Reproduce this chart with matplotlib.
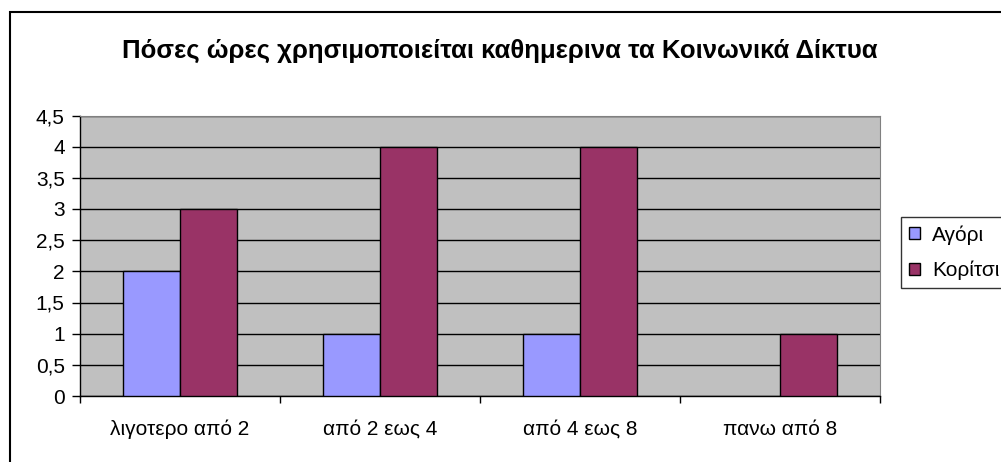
import numpy as np
import matplotlib.pyplot as plt
from matplotlib.patches import Rectangle

categories = ['λιγοτερο από 2', 'από 2 εως 4', 'από 4 εως 8', 'πανω από 8']
agori = [2, 1, 1, 0]
koritsi = [3, 4, 4, 1]
yticks_vals = [0, 0.5, 1, 1.5, 2, 2.5, 3, 3.5, 4, 4.5]
ytick_labels = ['0', '0,5', '1', '1,5', '2', '2,5', '3', '3,5', '4', '4,5']
title = 'Πόσες ώρες χρησιμοποιείται καθημερινα τα Κοινωνικά Δίκτυα'

plt.rcParams['font.family'] = ['Liberation Sans', 'DejaVu Sans']

W, H = 1001, 462
fig = plt.figure(figsize=(W / 100, H / 100), dpi=100)

# outer chart border (runs off the right/bottom edge)
fig.patches.append(Rectangle((10 / W, -0.1), 1.2, 1 - 12 / H + 0.1, transform=fig.transFigure,
                             fill=False, edgecolor='black', linewidth=1.5))

ax = fig.add_axes([80 / W, (H - 396) / H, 800 / W, (396 - 115.5) / H])
ax.set_facecolor('#C0C0C0')

x = np.arange(len(categories))
w = 1 / 3.5
# zero values are not drawn (no flat outline)
a = np.where(np.array(agori) == 0, np.nan, agori)
k = np.where(np.array(koritsi) == 0, np.nan, koritsi)
ax.bar(x - w / 2, a, w, color='#9999FF', edgecolor='black', linewidth=1, label='Αγόρι', zorder=3)
ax.bar(x + w / 2, k, w, color='#993366', edgecolor='black', linewidth=1, label='Κορίτσι', zorder=3)

ax.set_xlim(-0.5, len(categories) - 0.5)
ax.set_ylim(0, 4.5)
ax.set_yticks(yticks_vals)
ax.set_yticklabels(ytick_labels, fontsize=15)
ax.set_xticks(x)
ax.set_xticklabels(categories, fontsize=15)
ax.set_xticks(np.arange(len(categories) + 1) - 0.5, minor=True)
ax.tick_params(axis='x', which='major', length=0, pad=17)
ax.tick_params(axis='x', which='minor', length=5, width=1, direction='out')
ax.tick_params(axis='y', length=6, width=1, direction='out', pad=5)
ax.yaxis.grid(True, color='black', linewidth=1, zorder=1)
ax.set_axisbelow(True)

for s in ['top', 'right']:
    ax.spines[s].set_color('#808080')
for s in ['left', 'bottom']:
    ax.spines[s].set_color('black')
    ax.spines[s].set_linewidth(1)

fig.text(500 / W, 1 - 51 / H, title, ha='center', va='center', fontsize=18.5, fontweight='bold')

leg = fig.legend(loc='upper left', bbox_to_anchor=(901 / W, 1 - 217 / H), fontsize=15,
                 frameon=True, fancybox=False, edgecolor='black', handlelength=0.5,
                 handleheight=0.5, handletextpad=0.6, borderpad=0.4, labelspacing=0.75,
                 borderaxespad=0)
leg.get_frame().set_linewidth(1)

fig.savefig('out.png', dpi=100)
